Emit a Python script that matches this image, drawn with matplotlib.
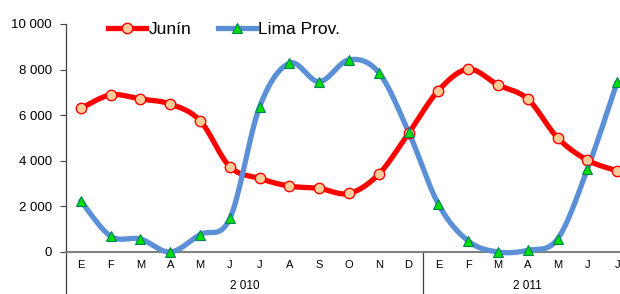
import numpy as np
import matplotlib
matplotlib.use("Agg")
import matplotlib.pyplot as plt
from matplotlib.lines import Line2D

months = ["E", "F", "M", "A", "M", "J", "J", "A", "S", "O", "N", "D",
          "E", "F", "M", "A", "M", "J", "J"]
years = ["2 010", "2 011"]
year_sizes = [12, 7]
junin = [6300, 6890, 6710, 6490, 5760, 3740, 3225, 2890, 2790, 2570, 3415, 5210,
         7080, 8020, 7330, 6710, 5010, 4030, 3560]
lima = [2240, 690, 570, 0, 765, 1470, 6370, 8280, 7470, 8430, 7870, 5270,
        2100, 485, 0, 75, 570, 3620, 7440]
yticks = [0, 2000, 4000, 6000, 8000, 10000]
ytick_labels = ["0", "2 000", "4 000", "6 000", "8 000", "10 000"]

W, H = 620, 294
fig = plt.figure(figsize=(W / 100, H / 100), dpi=100)
left_px, right_px, top_px, bot_px = 66, 632, 24, 252
ax = fig.add_axes([left_px / W, 1 - bot_px / H, (right_px - left_px) / W, (bot_px - top_px) / H])


def smooth(xs, ys, n=30):
    xs = np.asarray(xs, float)
    ys = np.asarray(ys, float)
    px = np.concatenate([[xs[0]], xs, [xs[-1]]])
    py = np.concatenate([[ys[0]], ys, [ys[-1]]])
    ox, oy = [], []
    t = np.linspace(0, 1, n)
    for i in range(1, len(px) - 2):
        p0 = np.array([px[i], py[i]])
        p3 = np.array([px[i + 1], py[i + 1]])
        p1 = p0 + (np.array([px[i + 1], py[i + 1]]) - np.array([px[i - 1], py[i - 1]])) / 6
        p2 = p3 - (np.array([px[i + 2], py[i + 2]]) - np.array([px[i], py[i]])) / 6
        b = ((1 - t) ** 3)[:, None] * p0 + (3 * (1 - t) ** 2 * t)[:, None] * p1 + \
            (3 * (1 - t) * t ** 2)[:, None] * p2 + (t ** 3)[:, None] * p3
        ox.extend(b[:, 0])
        oy.extend(b[:, 1])
    return np.array(ox), np.array(oy)


x = np.arange(len(months))
red = "#FF0000"
blue = "#5B8FD6"
sx, sy = smooth(x, junin)
ax.plot(sx, sy, color=red, lw=3.8, solid_capstyle="round", zorder=3, clip_on=False)
ax.plot(x, junin, ls="none", marker="o", ms=7.5, mfc="#FFCC99", mec=red, mew=1.0, zorder=4, clip_on=False)
sx, sy = smooth(x, lima)
ax.plot(sx, sy, color=blue, lw=3.8, solid_capstyle="round", zorder=3, clip_on=False)
ax.plot(x, lima, ls="none", marker="^", ms=7.5, mfc="#00E000", mec="#008060", mew=0.8, zorder=5, clip_on=False)

ax.set_xlim(-0.5, len(months) - 0.5)
ax.set_ylim(0, 10000)
ax.set_yticks(yticks)
ax.set_yticklabels(ytick_labels, fontsize=9.5, family="Liberation Sans")
ax.tick_params(axis="y", length=4, width=0.8, color="#404040", pad=6)
ax.set_xticks(x)
ax.set_xticklabels(months, fontsize=8, family="Liberation Sans")
ax.tick_params(axis="x", length=0, pad=6)
for s in ["top", "right"]:
    ax.spines[s].set_visible(False)
ax.spines["left"].set_color("#404040")
ax.spines["left"].set_linewidth(0.9)
ax.spines["bottom"].set_color("#808080")
ax.spines["bottom"].set_linewidth(1.5)

# multi-level category dividers and year labels
trans = ax.get_xaxis_transform()
drop = -(H - bot_px) / (bot_px - top_px) - 0.05
edges = np.concatenate([[0], np.cumsum(year_sizes)]) - 0.5
for e in edges[:-1]:
    ax.plot([e, e], [0, drop], transform=trans, color="#404040", lw=0.9, clip_on=False)
for yl, a, b in zip(years, edges[:-1], edges[1:]):
    ax.text((a + b) / 2, -(292 - bot_px) / (bot_px - top_px), yl, transform=trans,
            ha="center", va="bottom", fontsize=8.5, family="Liberation Sans")

handles = [
    Line2D([], [], color=red, lw=3.8, marker="o", ms=7.5, mfc="#FFCC99", mec=red, mew=1.0),
    Line2D([], [], color=blue, lw=3.8, marker="^", ms=7.5, mfc="#00E000", mec="#008060", mew=0.8),
]
fig.legend(handles, ["Junín", "Lima Prov."], loc="center left",
           bbox_to_anchor=(101 / W, 1 - 29 / H), ncol=2, frameon=False,
           prop={"family": "Liberation Sans", "size": 12.5},
           handlelength=2.2, handletextpad=0.15, columnspacing=1.5, borderaxespad=0)

fig.savefig("out.png", dpi=100)
